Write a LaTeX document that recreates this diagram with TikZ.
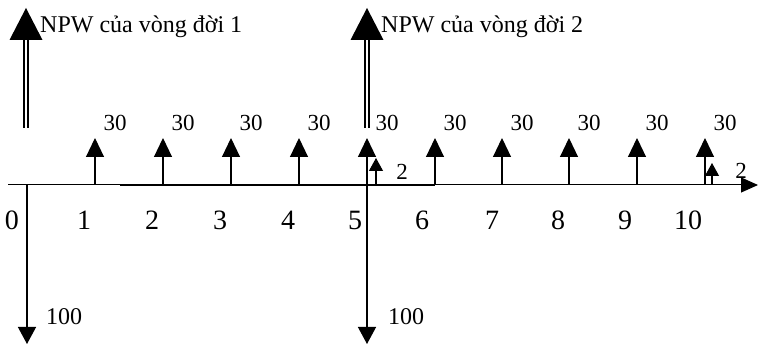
\documentclass[tikz,border=0pt]{standalone}
\usepackage{fontspec}
\setmainfont{Liberation Serif}
\usetikzlibrary{arrows.meta}
\begin{document}
\begin{tikzpicture}[x=1pt,y=-1pt,
  lbl/.style={font=\fontsize{23}{25}\selectfont, inner sep=0pt},
  yearlbl/.style={font=\fontsize{28}{30}\selectfont, inner sep=0pt},
  npwlbl/.style={font=\fontsize{24}{26}\selectfont, inner sep=0pt},
  uparrow/.style={line width=1.1pt, -{Triangle[width=18pt,length=19pt]}},
  smallarrow/.style={line width=1.1pt, -{Triangle[width=14pt,length=13pt]}},
  downarrow/.style={line width=1.3pt, -{Triangle[width=18pt,length=17pt]}},
  npwshaft/.style={line width=1.4pt, double, double distance=2.4pt},
  npwhead/.style={fill=black, draw=none}]
\useasboundingbox (0,0) rectangle (760,344);
% axis
\coordinate (a0) at (8,185);
\coordinate (aend) at (758,185);
\coordinate (thA) at (120,185);
\coordinate (thB) at (435,185);
\draw[line width=1pt, -{Triangle[width=15pt,length=17pt]}] (a0) -- (aend);
\draw[line width=2.2pt] (thA) -- (thB);
% year ticks / labels
\foreach \i/\x/\lx in {0/27/12,1/95/84,2/163/152,3/231/220,4/299/288,5/367/355,6/435/422,7/502/492,8/569/558,9/637/625,10/705/688}{
  \coordinate (t\i) at (\x,185);
  \node[yearlbl] (y\i) at (\lx,220) {\i};
}
% 30 arrows
\foreach \i/\x in {1/95,2/163,3/231,4/299,5/367,6/435,7/502,8/569,9/637,10/705}{
  \coordinate (u\i) at (\x,138);
  \draw[uparrow] (t\i) -- (u\i);
  \node[lbl] (c\i) at (\x+20,123) {30};
}
% small arrows 2
\coordinate (s5b) at (376,185);
\coordinate (s5t) at (376,158);
\draw[smallarrow] (s5b) -- (s5t);
\node[lbl] (s5l) at (402,172) {2};
\coordinate (s10b) at (712,185);
\coordinate (s10t) at (712,163);
\draw[smallarrow] (s10b) -- (s10t);
\node[lbl] (s10l) at (741,171) {2};
% down arrows 100
\coordinate (d0) at (27,344);
\coordinate (d5) at (367,344);
\draw[downarrow] (t0) -- (d0);
\draw[downarrow] (t5) -- (d5);
\node[lbl, font=\fontsize{24}{26}\selectfont] (h0) at (64,317) {100};
\node[lbl, font=\fontsize{24}{26}\selectfont] (h5) at (406,317) {100};
% NPW arrows
\foreach \k/\x in {1/26,2/367}{
  \coordinate (nb\k) at (\x,128);
  \coordinate (nh\k) at (\x,40);
  \draw[npwshaft] (nb\k) -- (nh\k);
  \fill[npwhead] (\x-16.5,40) -- (\x,8) -- (\x+16.5,40) -- cycle;
  \node[npwlbl, anchor=base west] (n\k) at (\x+14,33) {NPW của vòng đời \k};
}
\end{tikzpicture}
\end{document}
